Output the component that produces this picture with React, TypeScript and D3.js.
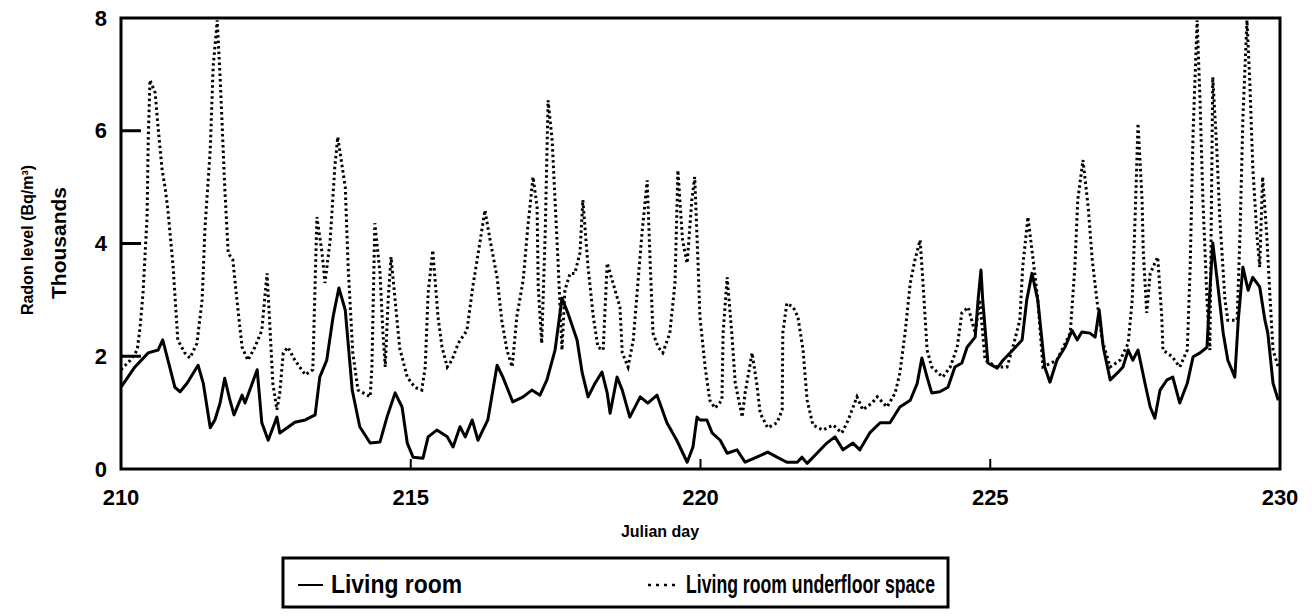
import React from "react";
import * as d3 from "d3";

// Living room (solid) – Julian day / thousands Bq/m3
const livingDays = [
  210.0, 210.24, 210.47, 210.64, 210.72, 210.81, 210.93, 211.02, 211.14, 211.33, 211.42, 211.54, 211.62, 211.71,
  211.79, 211.88, 211.95, 212.09, 212.14, 212.35, 212.43, 212.54, 212.69, 212.74, 212.88, 213.0, 213.18, 213.35,
  213.43, 213.55, 213.66, 213.76, 213.87, 213.99, 214.12, 214.3, 214.47, 214.59, 214.73, 214.85, 214.94, 215.04,
  215.21, 215.3, 215.45, 215.63, 215.73, 215.85, 215.94, 216.06, 216.16, 216.33, 216.49, 216.59, 216.76, 216.94,
  217.09, 217.23, 217.35, 217.49, 217.61, 217.71, 217.87, 217.96, 218.06, 218.18, 218.3, 218.39, 218.44, 218.56,
  218.65, 218.78, 218.96, 219.09, 219.25, 219.42, 219.59, 219.77, 219.87, 219.94, 219.99, 220.11, 220.2, 220.34,
  220.46, 220.63, 220.77, 220.97, 221.16, 221.32, 221.49, 221.67, 221.75, 221.84, 222.01, 222.18, 222.32, 222.46,
  222.63, 222.75, 222.92, 223.1, 223.27, 223.44, 223.62, 223.74, 223.82, 223.91, 223.99, 224.13, 224.27, 224.39,
  224.51, 224.6, 224.74, 224.79, 224.84, 224.87, 224.96, 225.12, 225.22, 225.39, 225.55, 225.63, 225.72, 225.82,
  225.94, 226.03, 226.15, 226.29, 226.41, 226.5, 226.58, 226.72, 226.81, 226.88, 226.95, 227.07, 227.19, 227.29,
  227.38, 227.46, 227.55, 227.67, 227.76, 227.84, 227.93, 228.05, 228.15, 228.27, 228.4, 228.5, 228.62, 228.74,
  228.79, 228.84, 228.93, 229.02, 229.1, 229.22, 229.28, 229.36, 229.45, 229.53, 229.65, 229.74, 229.79, 229.88,
  229.97,
];
const livingValues = [
  1.45, 1.81, 2.06, 2.11, 2.29, 1.93, 1.45, 1.37, 1.52, 1.84, 1.52, 0.73, 0.87, 1.17,
  1.61, 1.22, 0.96, 1.31, 1.17, 1.76, 0.82, 0.51, 0.92, 0.64, 0.74, 0.83, 0.87, 0.96,
  1.63, 1.93, 2.7, 3.21, 2.82, 1.4, 0.75, 0.46, 0.48, 0.92, 1.35, 1.1, 0.46, 0.21,
  0.19, 0.57, 0.69, 0.57, 0.39, 0.75, 0.57, 0.87, 0.51, 0.87, 1.84, 1.63, 1.19, 1.28,
  1.4, 1.31, 1.58, 2.11, 3.03, 2.77, 2.29, 1.7, 1.28, 1.52, 1.72, 1.35, 0.99, 1.63,
  1.4, 0.92, 1.28, 1.17, 1.31, 0.82, 0.51, 0.12, 0.39, 0.92, 0.87, 0.87, 0.64, 0.51,
  0.28, 0.34, 0.12, 0.21, 0.3, 0.21, 0.12, 0.12, 0.21, 0.1, 0.28, 0.46, 0.57, 0.34,
  0.46, 0.34, 0.64, 0.82, 0.82, 1.1, 1.22, 1.52, 1.97, 1.63, 1.35, 1.37, 1.45, 1.81,
  1.88, 2.16, 2.34, 3.0, 3.53, 3.0, 1.88, 1.79, 1.93, 2.11, 2.29, 3.0, 3.47, 3.0,
  1.81, 1.54, 1.93, 2.16, 2.46, 2.29, 2.43, 2.41, 2.34, 2.82, 2.16, 1.58, 1.7, 1.81,
  2.11, 1.93, 2.11, 1.52, 1.1, 0.9, 1.4, 1.58, 1.63, 1.17, 1.52, 1.99, 2.06, 2.16,
  3.17, 4.01, 3.23, 2.41, 1.93, 1.63, 2.64, 3.58, 3.17, 3.4, 3.23, 2.64, 2.41, 1.52,
  1.22,
];

// Living room underfloor space (dotted)
const underDays = [
  210.0, 210.16, 210.28, 210.33, 210.38, 210.45, 210.47, 210.5, 210.59, 210.64, 210.71, 210.76, 210.81, 210.9,
  210.98, 211.1, 211.19, 211.31, 211.4, 211.45, 211.54, 211.59, 211.66, 211.71, 211.74, 211.79, 211.85, 211.93,
  212.0, 212.09, 212.19, 212.31, 212.43, 212.52, 212.57, 212.62, 212.69, 212.74, 212.8, 212.88, 213.0, 213.18,
  213.31, 213.35, 213.38, 213.47, 213.52, 213.61, 213.69, 213.74, 213.87, 213.92, 214.0, 214.09, 214.3, 214.33,
  214.38, 214.47, 214.52, 214.56, 214.61, 214.66, 214.73, 214.81, 214.94, 215.07, 215.19, 215.25, 215.3, 215.38,
  215.47, 215.54, 215.63, 215.71, 215.82, 215.97, 216.07, 216.2, 216.28, 216.37, 216.49, 216.57, 216.66, 216.75,
  216.83, 216.94, 217.02, 217.11, 217.18, 217.2, 217.26, 217.32, 217.37, 217.44, 217.49, 217.54, 217.61, 217.66,
  217.75, 217.83, 217.92, 217.97, 218.06, 218.15, 218.23, 218.32, 218.39, 218.49, 218.61, 218.65, 218.75, 218.84,
  218.92, 218.99, 219.08, 219.13, 219.18, 219.27, 219.35, 219.47, 219.56, 219.61, 219.69, 219.77, 219.85, 219.9,
  219.96, 219.99, 220.08, 220.16, 220.25, 220.37, 220.39, 220.46, 220.54, 220.6, 220.72, 220.77, 220.89, 220.97,
  221.03, 221.16, 221.32, 221.41, 221.42, 221.49, 221.6, 221.68, 221.77, 221.84, 221.94, 222.11, 222.29, 222.44,
  222.55, 222.7, 222.8, 222.96, 223.05, 223.22, 223.36, 223.44, 223.53, 223.62, 223.7, 223.79, 223.84, 223.91,
  223.99, 224.18, 224.31, 224.43, 224.51, 224.62, 224.74, 224.82, 224.91, 225.12, 225.29, 225.39, 225.51, 225.56,
  225.65, 225.74, 225.82, 225.91, 226.15, 226.38, 226.46, 226.51, 226.6, 226.69, 226.76, 226.84, 226.93, 227.07,
  227.24, 227.38, 227.45, 227.5, 227.55, 227.62, 227.64, 227.7, 227.76, 227.84, 227.89, 227.96, 227.98, 228.14,
  228.27, 228.4, 228.45, 228.5, 228.57, 228.62, 228.67, 228.74, 228.79, 228.84, 228.91, 228.96, 229.05, 229.1,
  229.26, 229.31, 229.36, 229.43, 229.48, 229.53, 229.6, 229.65, 229.7, 229.77, 229.83, 229.88, 229.97,
];
const underValues = [
  1.76, 1.93, 2.11, 2.52, 3.12, 4.47, 5.83, 6.9, 6.67, 6.06, 5.3, 5.0, 4.59, 3.58,
  2.29, 2.06, 1.97, 2.23, 3.0, 4.29, 5.66, 7.13, 7.96, 6.95, 6.24, 5.0, 3.83, 3.71,
  3.0, 2.16, 1.93, 2.16, 2.46, 3.47, 2.52, 1.52, 1.05, 1.35, 2.06, 2.16, 1.93, 1.67,
  1.76, 3.3, 4.47, 3.83, 3.3, 4.06, 5.36, 5.89, 5.0, 3.58, 2.06, 1.4, 1.28, 1.81,
  4.36, 3.47, 2.41, 1.81, 3.0, 3.76, 3.0, 2.14, 1.63, 1.45, 1.4, 1.81, 3.12, 3.88,
  2.7, 2.16, 1.81, 1.93, 2.23, 2.46, 3.23, 4.06, 4.59, 4.06, 3.4, 2.64, 2.11, 1.81,
  2.7, 3.35, 4.29, 5.18, 4.65, 3.23, 2.23, 4.18, 6.54, 5.83, 4.77, 3.71, 2.11, 3.17,
  3.47, 3.47, 3.83, 4.77, 3.58, 2.7, 2.16, 2.11, 3.65, 3.3, 2.87, 2.06, 1.81, 2.29,
  3.3, 4.18, 5.12, 3.71, 2.41, 2.16, 2.06, 2.41, 3.3, 5.3, 4.06, 3.65, 4.77, 5.18,
  3.58, 2.7, 1.81, 1.22, 1.08, 1.22, 2.41, 3.4, 2.41, 1.52, 0.92, 1.35, 2.06, 1.52,
  0.99, 0.73, 0.82, 1.05, 2.41, 2.94, 2.87, 2.7, 2.11, 1.22, 0.78, 0.69, 0.78, 0.64,
  0.87, 1.28, 1.05, 1.17, 1.28, 1.1, 1.35, 1.7, 2.41, 3.3, 3.71, 4.06, 3.3, 2.11,
  1.81, 1.63, 1.81, 2.16, 2.77, 2.87, 2.41, 3.0, 1.93, 1.81, 1.81, 2.16, 2.64, 3.58,
  4.47, 3.71, 3.0, 1.81, 1.93, 2.41, 3.58, 4.77, 5.48, 4.65, 3.71, 3.0, 2.29, 1.81,
  1.93, 2.23, 3.0, 4.47, 6.13, 4.77, 3.88, 2.77, 3.47, 3.65, 3.76, 2.7, 2.11, 1.99,
  1.81, 2.11, 3.58, 5.96, 7.96, 6.54, 4.77, 3.0, 2.11, 6.95, 5.66, 4.47, 3.0, 2.64,
  2.64, 4.18, 6.24, 7.96, 6.84, 5.36, 4.18, 3.58, 5.18, 4.18, 3.0, 2.11, 1.81,
];

const xTicks = [210, 215, 220, 225, 230];
const yTicks = [0, 2, 4, 6, 8];
const legendLabels = ["Living room", "Living room underfloor space"];

const font = "'Liberation Sans', Arial, Helvetica, sans-serif";

export default function App() {
  const width = 1312;
  const height = 616;
  const m = { left: 121, right: 1280, top: 18, bottom: 469 };

  const x = d3.scaleLinear().domain([210, 230]).range([m.left, m.right]);
  const y = d3.scaleLinear().domain([0, 8]).range([m.bottom, m.top]);

  const living = livingDays.map((d, i) => [d, livingValues[i]] as [number, number]);
  const under = underDays.map((d, i) => [d, underValues[i]] as [number, number]);

  const line = d3
    .line<[number, number]>()
    .x((d) => x(d[0]))
    .y((d) => y(d[1]));

  return (
    <svg
      width={width}
      height={height}
      style={{ position: "absolute", left: 0, top: 0, background: "#fff" }}
      fontFamily={font}
    >
      <defs>
        <clipPath id="plot">
          <rect x={m.left} y={m.top} width={m.right - m.left} height={m.bottom - m.top} />
        </clipPath>
      </defs>

      {/* series */}
      <g clipPath="url(#plot)">
        <path d={line(under) || ""} fill="none" stroke="#000" strokeWidth={3} strokeDasharray="2.5 3" />
        <path d={line(living) || ""} fill="none" stroke="#000" strokeWidth={3} strokeLinejoin="round" />
      </g>

      {/* frame */}
      <rect
        x={m.left}
        y={m.top}
        width={m.right - m.left}
        height={m.bottom - m.top}
        fill="none"
        stroke="#000"
        strokeWidth={3}
      />

      {/* y ticks inward */}
      {yTicks.slice(1, -1).map((t) => (
        <line key={t} x1={m.left} x2={m.left + 20} y1={y(t)} y2={y(t)} stroke="#000" strokeWidth={3} />
      ))}
      {yTicks.map((t) => (
        <text
          key={t}
          x={m.left - 14}
          y={y(t)}
          textAnchor="end"
          dominantBaseline="central"
          fontSize={22}
          fontWeight="bold"
        >
          {t}
        </text>
      ))}

      {/* x ticks inward */}
      {xTicks.slice(1, -1).map((t) => (
        <line key={t} x1={x(t)} x2={x(t)} y1={m.bottom} y2={m.bottom - 10} stroke="#000" strokeWidth={2} />
      ))}
      {xTicks.map((t) => (
        <text key={t} x={x(t)} y={505} textAnchor="middle" fontSize={22} fontWeight="bold">
          {t}
        </text>
      ))}

      {/* axis titles */}
      <text x={660} y={537} textAnchor="middle" fontSize={16} fontWeight="bold">
        Julian day
      </text>
      <text
        transform="translate(33,240) rotate(-90)"
        textAnchor="middle"
        fontSize={16}
        fontWeight="bold"
      >
        Radon level (Bq/m³)
      </text>
      <text
        transform="translate(66,243) rotate(-90)"
        textAnchor="middle"
        fontSize={21}
        fontWeight="bold"
      >
        Thousands
      </text>

      {/* legend */}
      <g>
        <rect x={283} y={558} width={665} height={49} fill="#fff" stroke="#000" strokeWidth={3} />
        <line x1={298} x2={323} y1={585} y2={585} stroke="#000" strokeWidth={2} />
        <text x={331} y={593} fontSize={25} fontWeight="bold" textLength={131} lengthAdjust="spacingAndGlyphs">
          {legendLabels[0]}
        </text>
        <line x1={648} x2={678} y1={585} y2={585} stroke="#000" strokeWidth={2.5} strokeDasharray="3 5" />
        <text x={686} y={593} fontSize={25} fontWeight="bold" textLength={249} lengthAdjust="spacingAndGlyphs">
          {legendLabels[1]}
        </text>
      </g>
    </svg>
  );
}
